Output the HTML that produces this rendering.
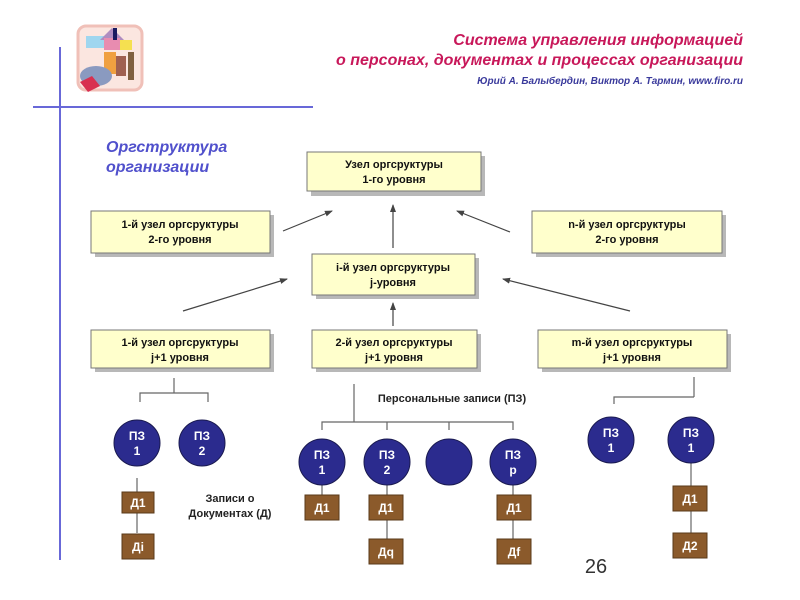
<!DOCTYPE html>
<html><head><meta charset="utf-8"><style>
html,body{margin:0;padding:0;background:#fff;}
svg{display:block}
text{font-family:"Liberation Sans","DejaVu Sans",sans-serif;}
</style></head><body>
<svg width="800" height="600" viewBox="0 0 800 600" xmlns="http://www.w3.org/2000/svg">
<defs>
<marker id="ah" markerWidth="8" markerHeight="6" refX="7" refY="3" orient="auto" markerUnits="userSpaceOnUse">
<path d="M0,0 L8,3 L0,6 z" fill="#444"/></marker>
</defs>
<!-- logo -->
<g>
<rect x="78" y="26" width="64" height="64" rx="8" fill="#fbe6e0" stroke="#f0c0b8" stroke-width="3"/>
<rect x="86" y="36" width="20" height="12" fill="#9fd6ef"/>
<path d="M100 40 L112 28 L124 40 Z" fill="#b08cc0"/>
<rect x="104" y="38" width="16" height="12" fill="#e88cb0"/>
<rect x="113" y="28" width="4" height="12" fill="#1a1a60"/>
<rect x="120" y="40" width="12" height="10" fill="#f5e050"/>
<rect x="104" y="52" width="12" height="22" fill="#f0a040"/>
<rect x="116" y="56" width="10" height="20" fill="#a06050"/>
<rect x="128" y="52" width="6" height="28" fill="#806040"/>
<ellipse cx="96" cy="76" rx="16" ry="10" fill="#8a9ac0"/>
<path d="M80 82 L92 76 L100 86 L88 92 Z" fill="#d83050"/>
</g>
<!-- blue lines -->
<line x1="60" y1="47" x2="60" y2="560" stroke="#6868d8" stroke-width="2"/>
<line x1="33" y1="107" x2="313" y2="107" stroke="#6868d8" stroke-width="2"/>
<!-- header -->
<g font-style="italic" font-weight="bold" fill="#c8185a" text-anchor="end" font-size="16">
<text x="743" y="45">Система управления информацией</text>
<text x="743" y="65">о персонах, документах и процессах организации</text>
</g>
<text x="743" y="84" text-anchor="end" font-size="10" font-style="italic" font-weight="bold" fill="#3a3a9c">Юрий А. Балыбердин, Виктор А. Тармин, www.firo.ru</text>
<g font-style="italic" font-weight="bold" fill="#5050cc" font-size="16">
<text x="106" y="152">Оргструктура</text>
<text x="106" y="172">организации</text>
</g>
<!-- boxes -->
<g font-size="11" font-weight="bold" fill="#111" text-anchor="middle">
<g>
<rect x="311" y="156" width="174" height="40" fill="#888" opacity="0.6"/>
<rect x="307" y="152" width="174" height="39" fill="#ffffcc" stroke="#777"/>
<text x="394" y="168">Узел оргсруктуры</text><text x="394" y="183">1-го уровня</text>
</g>
<g>
<rect x="95" y="215" width="179" height="42" fill="#888" opacity="0.6"/>
<rect x="91" y="211" width="179" height="42" fill="#ffffcc" stroke="#777"/>
<text x="180" y="228">1-й узел оргсруктуры</text><text x="180" y="243">2-го уровня</text>
</g>
<g>
<rect x="536" y="215" width="190" height="42" fill="#888" opacity="0.6"/>
<rect x="532" y="211" width="190" height="42" fill="#ffffcc" stroke="#777"/>
<text x="627" y="228">n-й узел оргсруктуры</text><text x="627" y="243">2-го уровня</text>
</g>
<g>
<rect x="316" y="258" width="163" height="41" fill="#888" opacity="0.6"/>
<rect x="312" y="254" width="163" height="41" fill="#ffffcc" stroke="#777"/>
<text x="393" y="271">i-й узел оргсруктуры</text><text x="393" y="286">j-уровня</text>
</g>
<g>
<rect x="95" y="334" width="179" height="38" fill="#888" opacity="0.6"/>
<rect x="91" y="330" width="179" height="38" fill="#ffffcc" stroke="#777"/>
<text x="180" y="346">1-й узел оргсруктуры</text><text x="180" y="361">j+1 уровня</text>
</g>
<g>
<rect x="316" y="334" width="165" height="38" fill="#888" opacity="0.6"/>
<rect x="312" y="330" width="165" height="38" fill="#ffffcc" stroke="#777"/>
<text x="394" y="346">2-й узел оргсруктуры</text><text x="394" y="361">j+1 уровня</text>
</g>
<g>
<rect x="542" y="334" width="189" height="38" fill="#888" opacity="0.6"/>
<rect x="538" y="330" width="189" height="38" fill="#ffffcc" stroke="#777"/>
<text x="632" y="346">m-й узел оргсруктуры</text><text x="632" y="361">j+1 уровня</text>
</g>
</g>
<!-- arrows -->
<g stroke="#444" stroke-width="1.2" marker-end="url(#ah)">
<line x1="283" y1="231" x2="332" y2="211"/>
<line x1="393" y1="248" x2="393" y2="205"/>
<line x1="510" y1="232" x2="457" y2="211"/>
<line x1="183" y1="311" x2="287" y2="279"/>
<line x1="393" y1="326" x2="393" y2="303"/>
<line x1="630" y1="311" x2="503" y2="279"/>
</g>
<!-- brackets -->
<g stroke="#666" stroke-width="1.2" fill="none">
<path d="M174 378 V393 M140 402 V393 H208 V402"/>
<path d="M354 384 V422 M322 430 V422 H513 V430 M387 422 V430 M449 422 V430"/>
<path d="M694 377 V397 M614 404 V397 H694"/>
<path d="M137 478 V533"/>
<path d="M322 485 V495 M387 485 V539 M513 485 V539"/>
<path d="M691 463 V533"/>
</g>
<text x="452" y="402" font-size="11" font-weight="bold" fill="#222" text-anchor="middle">Персональные записи (ПЗ)</text>
<text x="230" y="502" font-size="11" font-weight="bold" fill="#222" text-anchor="middle">Записи о</text>
<text x="230" y="517" font-size="11" font-weight="bold" fill="#222" text-anchor="middle">Документах (Д)</text>
<!-- circles -->
<g fill="#2b2b8e" stroke="#1a1a50" stroke-width="1">
<circle cx="137" cy="443" r="23"/><circle cx="202" cy="443" r="23"/>
<circle cx="322" cy="462" r="23"/><circle cx="387" cy="462" r="23"/>
<circle cx="449" cy="462" r="23"/><circle cx="513" cy="462" r="23"/>
<circle cx="611" cy="440" r="23"/><circle cx="691" cy="440" r="23"/>
</g>
<g font-size="12" font-weight="bold" fill="#fff" text-anchor="middle">
<text x="137" y="440">ПЗ</text><text x="137" y="455">1</text>
<text x="202" y="440">ПЗ</text><text x="202" y="455">2</text>
<text x="322" y="459">ПЗ</text><text x="322" y="474">1</text>
<text x="387" y="459">ПЗ</text><text x="387" y="474">2</text>
<text x="513" y="459">ПЗ</text><text x="513" y="474">p</text>
<text x="611" y="437">ПЗ</text><text x="611" y="452">1</text>
<text x="691" y="437">ПЗ</text><text x="691" y="452">1</text>
</g>
<!-- docs -->
<g fill="#8b5a2b" stroke="#5a3a1a">
<rect x="122" y="492" width="32" height="21"/><rect x="122" y="534" width="32" height="25"/>
<rect x="305" y="495" width="34" height="25"/>
<rect x="369" y="495" width="34" height="25"/><rect x="369" y="539" width="34" height="25"/>
<rect x="497" y="495" width="34" height="25"/><rect x="497" y="539" width="34" height="25"/>
<rect x="673" y="486" width="34" height="25"/><rect x="673" y="533" width="34" height="25"/>
</g>
<g font-size="12" font-weight="bold" fill="#fff" text-anchor="middle">
<text x="138" y="507">Д1</text><text x="138" y="551">Дi</text>
<text x="322" y="512">Д1</text>
<text x="386" y="512">Д1</text><text x="386" y="556">Дq</text>
<text x="514" y="512">Д1</text><text x="514" y="556">Дf</text>
<text x="690" y="503">Д1</text><text x="690" y="550">Д2</text>
</g>
<text x="596" y="573" font-size="20" fill="#333" text-anchor="middle">26</text>
</svg>
</body></html>
